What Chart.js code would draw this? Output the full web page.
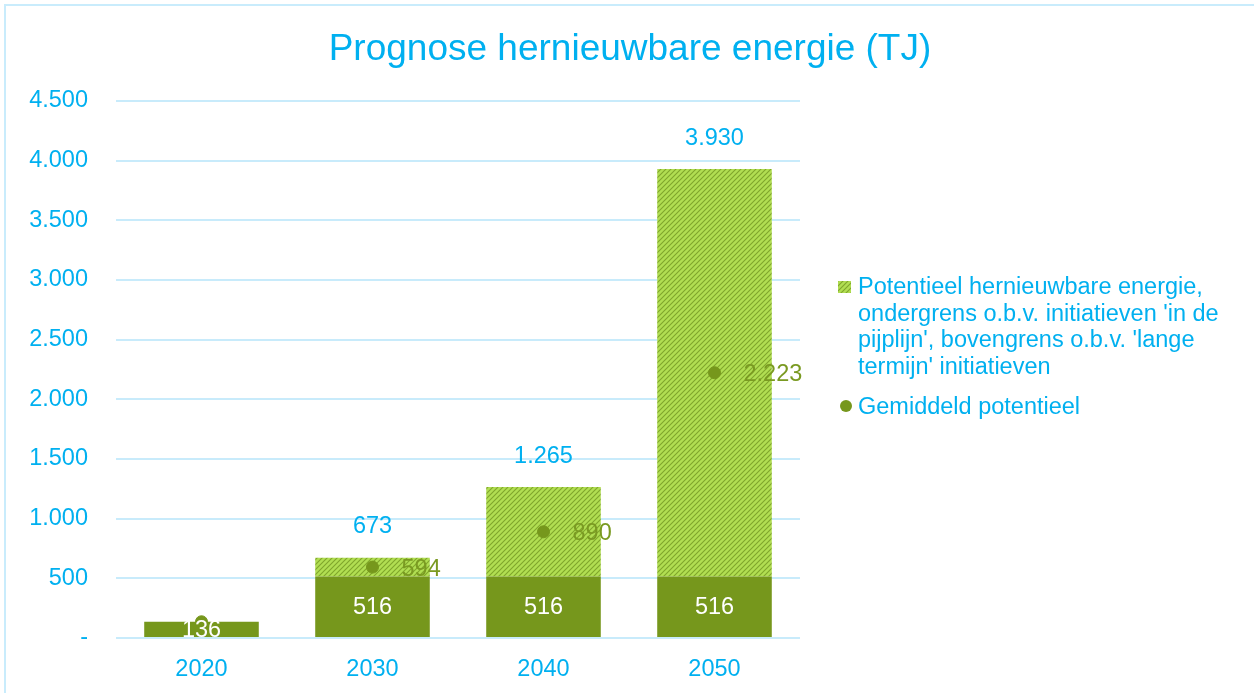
<!DOCTYPE html>
<html>
<head>
<meta charset="utf-8">
<script src="https://cdn.jsdelivr.net/npm/chart.js@4/dist/chart.umd.min.js"></script>
<style>
  html, body { margin: 0; padding: 0; background: #fff; }
  #wrap { position: relative; width: 1254px; height: 693px; overflow: hidden; font-family: "Liberation Sans", Arial, sans-serif; }
  #c { position: absolute; left: 0; top: 0; }
  #frame { position: absolute; left: 4px; top: 4px; width: 1270px; height: 720px; border: 2px solid #c9ecfc; pointer-events: none; box-sizing: border-box; }
  #title { position: absolute; left: 0; width: 1260px; top: 26px; text-align: center; color: #00B0F0; font-size: 37px; line-height: 44px; }
  #legend { position: absolute; left: 836px; top: 273px; width: 418px; color: #00B0F0; font-size: 23.5px; line-height: 26.7px; }
  .item { position: relative; padding-left: 22px; }
  .sw { position: absolute; left: 2px; top: 8px; width: 13px; height: 12px; }
  .dot { position: absolute; left: 4px; top: 7px; width: 12px; height: 12px; border-radius: 50%; background: #76971c; }
</style>
</head>
<body>
<div id="wrap">
  <canvas id="c" width="1254" height="693"></canvas>
  <div id="frame"></div>
  <div id="title">Prognose hernieuwbare energie (TJ)</div>
  <div id="legend">
    <div class="item"><canvas class="sw" id="sw" width="13" height="12"></canvas>Potentieel hernieuwbare energie, ondergrens o.b.v. initiatieven 'in de pijplijn', bovengrens o.b.v. 'lange termijn' initiatieven</div>
    <div class="item" style="margin-top:13px"><span class="dot"></span>Gemiddeld potentieel</div>
  </div>
</div>
<script>
const categories = ['2020', '2030', '2040', '2050'];
const lowerBound = [136, 516, 516, 516];
const upperExtra = [0, 157, 749, 3414];
const totals = [136, 673, 1265, 3930];
const average = [136, 594, 890, 2223];
const yTicks = [0, 500, 1000, 1500, 2000, 2500, 3000, 3500, 4000, 4500];

const BLUE = '#00B0F0';
const DARK = '#76971c';
const GRID = '#c8ebfb';
const FONT = '"Liberation Sans", Arial, sans-serif';
const FS = 23.5;

function makePattern(ctx) {
  const p = document.createElement('canvas');
  p.width = 5; p.height = 5;
  const g = p.getContext('2d');
  g.fillStyle = '#b1de52';
  g.fillRect(0, 0, 5, 5);
  g.strokeStyle = '#7fa52c';
  g.lineWidth = 1.1;
  g.beginPath();
  g.moveTo(-1, 6); g.lineTo(6, -1);
  g.moveTo(-1, 1); g.lineTo(1, -1);
  g.moveTo(4, 6); g.lineTo(6, 4);
  g.stroke();
  return ctx.createPattern(p, 'repeat');
}

const ctx = document.getElementById('c').getContext('2d');
const hatch = makePattern(ctx);
const swc = document.getElementById('sw').getContext('2d');
swc.fillStyle = makePattern(swc);
swc.fillRect(0, 0, 13, 12);

function fmt(v) {
  return String(v).replace(/\B(?=(\d{3})+(?!\d))/g, '.');
}

const labelPlugin = {
  id: 'labels',
  afterDatasetsDraw(chart) {
    const c = chart.ctx;
    c.save();
    c.font = FS + 'px ' + FONT;
    c.textBaseline = 'middle';
    const m0 = chart.getDatasetMeta(1);
    m0.data.forEach((el, i) => {
      c.fillStyle = '#ffffff';
      c.textAlign = 'center';
      const yc = (el.y + el.base) / 2;
      c.fillText(fmt(lowerBound[i]), el.x, yc + 1);
    });
    const m1 = chart.getDatasetMeta(2);
    m1.data.forEach((el, i) => {
      if (upperExtra[i] <= 0) return;
      c.fillStyle = BLUE;
      c.textAlign = 'center';
      c.fillText(fmt(totals[i]), el.x, el.y - 31);
    });
    const m2 = chart.getDatasetMeta(0);
    m2.data.forEach((el, i) => {
      if (i === 0) return;
      c.fillStyle = '#7a9a22';
      c.textAlign = 'left';
      c.fillText(fmt(average[i]), el.x + 29, el.y + 2);
    });
    c.restore();
  }
};

new Chart(ctx, {
  type: 'bar',
  data: {
    labels: categories,
    datasets: [
      {
        type: 'line',
        label: 'Gemiddeld potentieel',
        data: average,
        showLine: false,
        pointRadius: 6,
        pointBackgroundColor: DARK,
        pointBorderColor: DARK,
        order: 0
      },
      {
        label: 'Ondergrens',
        data: lowerBound,
        backgroundColor: DARK,
        stack: 's',
        order: 1,
        barPercentage: 0.67,
        categoryPercentage: 1
      },
      {
        label: 'Potentieel hernieuwbare energie',
        data: upperExtra,
        backgroundColor: hatch,
        stack: 's',
        order: 1,
        barPercentage: 0.67,
        categoryPercentage: 1
      }
    ]
  },
  options: {
    responsive: false,
    animation: false,
    layout: { padding: { left: 0, right: 454, top: 101, bottom: 0 } },
    plugins: {
      legend: { display: false },
      tooltip: { enabled: false },
      title: { display: false }
    },
    scales: {
      x: {
        stacked: true,
        grid: { display: false },
        border: { display: false },
        ticks: { color: BLUE, font: { family: FONT, size: FS }, padding: 9 },
        afterFit(s) { s.height = 55; }
      },
      y: {
        stacked: true,
        min: 0,
        max: 4500,
        afterBuildTicks(s) { s.ticks = yTicks.map(v => ({ value: v })); },
        grid: { color: GRID, lineWidth: 2, drawTicks: false },
        border: { display: false },
        ticks: {
          color: BLUE,
          font: { family: FONT, size: FS },
          padding: 28,
          callback: v => v === 0 ? '-' : fmt(v)
        },
        afterFit(s) { s.width = 116; }
      }
    }
  },
  plugins: [labelPlugin]
});
</script>
</body>
</html>
